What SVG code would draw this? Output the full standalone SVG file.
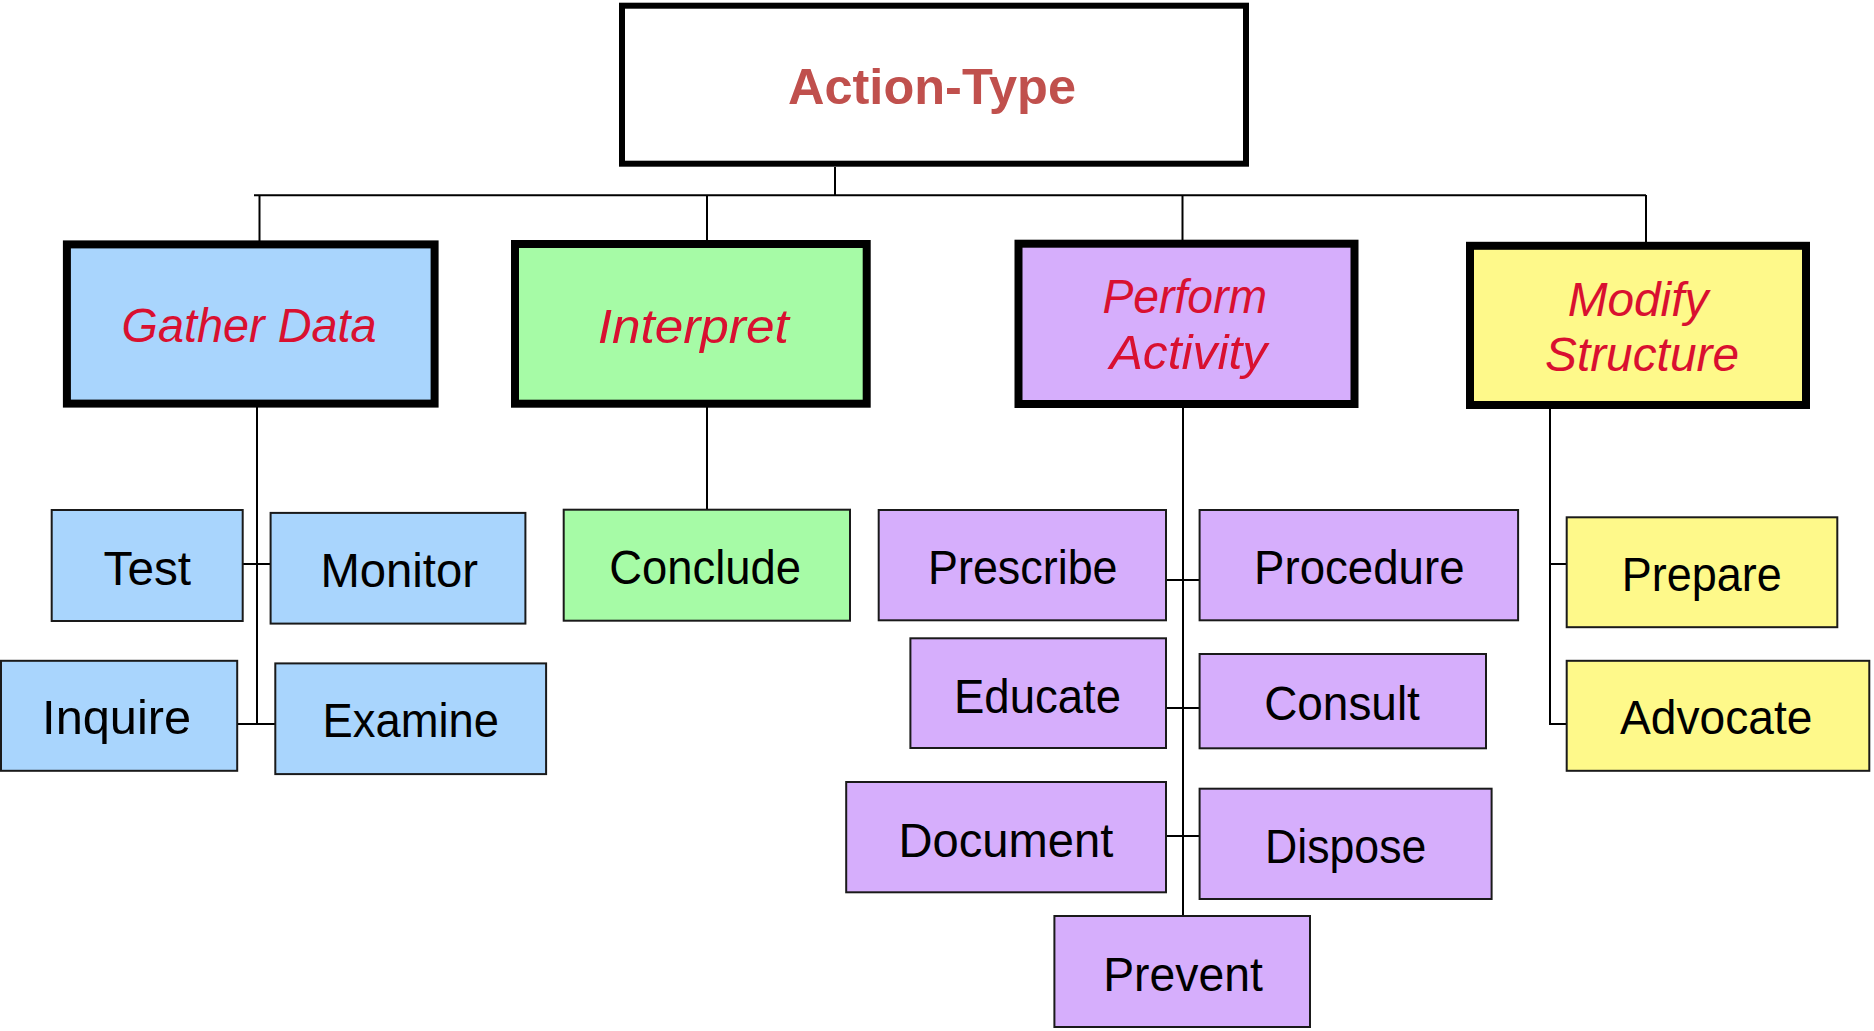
<svg xmlns="http://www.w3.org/2000/svg" width="1874" height="1031" viewBox="0 0 1874 1031">
  <style>
    .bg { fill: #ffffff; }
    .wire { fill: none; stroke: #000000; stroke-width: 2; }
    .root rect { fill: #ffffff; stroke: #000000; stroke-width: 6; }
    .cat rect { stroke: #000000; stroke-width: 8; }
    .leaf rect { stroke: #1a1a1a; stroke-width: 2; }
    .blue rect { fill: #a9d5fd; }
    .green rect { fill: #a6fba6; }
    .purple rect { fill: #d6aefc; }
    .yellow rect { fill: #fef98a; }
    text { font-family: "Liberation Sans", Arial, sans-serif; text-anchor: middle; }
    .root text { font-size: 50px; font-weight: bold; fill: #c0504d; }
    .cat text { font-size: 48px; font-style: italic; fill: #d91030; }
    .leaf text { font-size: 48px; fill: #000000; }
  </style>

  <rect class="bg" x="0" y="0" width="1874" height="1031"/>

  <!-- connectors -->
  <g id="connectors" class="wire">
    <path d="M254 195.3 H1646"/>
    <path d="M835 167 V195"/>
    <path d="M259.5 195 V241"/>
    <path d="M707 195 V241"/>
    <path d="M1182.5 195 V241"/>
    <path d="M1646 195 V242"/>
    <!-- Gather Data children -->
    <path d="M257 407 V724"/>
    <path d="M243 564 H271"/>
    <path d="M238 724 H276"/>
    <!-- Interpret child -->
    <path d="M707 407 V510"/>
    <!-- Perform Activity children -->
    <path d="M1183 407 V917"/>
    <path d="M1167 580 H1200"/>
    <path d="M1167 708 H1200"/>
    <path d="M1167 836 H1200"/>
    <!-- Modify Structure children -->
    <path d="M1550 409 V724 H1567"/>
    <path d="M1550 564 H1567"/>
  </g>

  <!-- root -->
  <g id="action-type" class="root">
    <rect x="622" y="5.7" width="624" height="158"/>
    <text x="932" y="104" textLength="288" lengthAdjust="spacingAndGlyphs">Action-Type</text>
  </g>

  <!-- categories -->
  <g id="gather-data" class="cat blue">
    <rect x="66.9" y="244.4" width="367.7" height="159.2"/>
    <text x="249.1" y="341.8" textLength="255" lengthAdjust="spacingAndGlyphs">Gather Data</text>
  </g>
  <g id="interpret" class="cat green">
    <rect x="515" y="244" width="351.7" height="159.7"/>
    <text x="693.2" y="343.3" textLength="191" lengthAdjust="spacingAndGlyphs">Interpret</text>
  </g>
  <g id="perform-activity" class="cat purple">
    <rect x="1018.5" y="243.7" width="336" height="160.3"/>
    <text x="1184.8" y="313.3" textLength="164.7" lengthAdjust="spacingAndGlyphs">Perform</text>
    <text x="1188.4" y="369" textLength="157.4" lengthAdjust="spacingAndGlyphs">Activity</text>
  </g>
  <g id="modify-structure" class="cat yellow">
    <rect x="1470" y="245.8" width="336" height="159.2"/>
    <text x="1638" y="316.3" textLength="140.7" lengthAdjust="spacingAndGlyphs">Modify</text>
    <text x="1642" y="370.9" textLength="194" lengthAdjust="spacingAndGlyphs">Structure</text>
  </g>

  <!-- Gather Data leaves -->
  <g id="test" class="leaf blue">
    <rect x="51.7" y="510" width="191" height="111"/>
    <text x="147.3" y="584.6" textLength="87.5" lengthAdjust="spacingAndGlyphs">Test</text>
  </g>
  <g id="monitor" class="leaf blue">
    <rect x="270.6" y="512.9" width="254.8" height="110.7"/>
    <text x="399.2" y="587.1" textLength="157.5" lengthAdjust="spacingAndGlyphs">Monitor</text>
  </g>
  <g id="inquire" class="leaf blue">
    <rect x="1" y="660.8" width="236.2" height="110"/>
    <text x="116.6" y="734.4" textLength="149" lengthAdjust="spacingAndGlyphs">Inquire</text>
  </g>
  <g id="examine" class="leaf blue">
    <rect x="275.3" y="663.4" width="270.8" height="110.7"/>
    <text x="410.7" y="736.9" textLength="176.4" lengthAdjust="spacingAndGlyphs">Examine</text>
  </g>

  <!-- Interpret leaf -->
  <g id="conclude" class="leaf green">
    <rect x="563.7" y="509.7" width="286.3" height="111"/>
    <text x="705.2" y="584" textLength="191.7" lengthAdjust="spacingAndGlyphs">Conclude</text>
  </g>

  <!-- Perform Activity leaves -->
  <g id="prescribe" class="leaf purple">
    <rect x="878.7" y="510" width="287.3" height="110.3"/>
    <text x="1022.8" y="584.3" textLength="189.5" lengthAdjust="spacingAndGlyphs">Prescribe</text>
  </g>
  <g id="procedure" class="leaf purple">
    <rect x="1199.6" y="510" width="318.5" height="110.3"/>
    <text x="1359.3" y="584.3" textLength="210.4" lengthAdjust="spacingAndGlyphs">Procedure</text>
  </g>
  <g id="educate" class="leaf purple">
    <rect x="910.4" y="638.3" width="255.6" height="109.7"/>
    <text x="1037.5" y="712.7" textLength="167" lengthAdjust="spacingAndGlyphs">Educate</text>
  </g>
  <g id="consult" class="leaf purple">
    <rect x="1199.6" y="654" width="286.4" height="94.3"/>
    <text x="1342" y="720" textLength="155.7" lengthAdjust="spacingAndGlyphs">Consult</text>
  </g>
  <g id="document" class="leaf purple">
    <rect x="846.2" y="782" width="319.8" height="110.3"/>
    <text x="1005.9" y="857.3" textLength="214.7" lengthAdjust="spacingAndGlyphs">Document</text>
  </g>
  <g id="dispose" class="leaf purple">
    <rect x="1199.6" y="788.7" width="292" height="110.3"/>
    <text x="1345.7" y="862.7" textLength="161.3" lengthAdjust="spacingAndGlyphs">Dispose</text>
  </g>
  <g id="prevent" class="leaf purple">
    <rect x="1054.4" y="916" width="255.6" height="111"/>
    <text x="1183" y="991" textLength="159.6" lengthAdjust="spacingAndGlyphs">Prevent</text>
  </g>

  <!-- Modify Structure leaves -->
  <g id="prepare" class="leaf yellow">
    <rect x="1566.7" y="517.3" width="270.6" height="109.9"/>
    <text x="1701.7" y="590.8" textLength="160" lengthAdjust="spacingAndGlyphs">Prepare</text>
  </g>
  <g id="advocate" class="leaf yellow">
    <rect x="1566.7" y="660.8" width="302.6" height="110"/>
    <text x="1716.2" y="734.4" textLength="192.3" lengthAdjust="spacingAndGlyphs">Advocate</text>
  </g>
</svg>
